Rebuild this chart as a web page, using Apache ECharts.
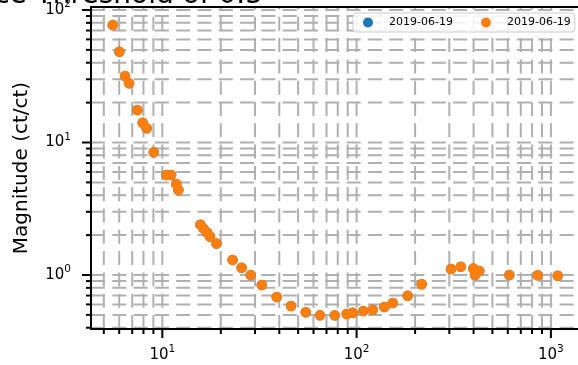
<!DOCTYPE html>
<html>
<head>
<meta charset="utf-8">
<script src="https://cdn.jsdelivr.net/npm/echarts@6/dist/echarts.min.js"></script>
<style>html,body{margin:0;padding:0;background:#fff;}#c{width:578px;height:365px;}</style>
</head>
<body>
<div id="c"></div>
<script>
// ---- data ----
const freq = [5.56, 6.01, 6.43, 6.74, 7.44, 7.93, 8.31, 9.03, 10.5, 11.1, 11.8, 12.1, 15.7, 16.3, 17.0, 17.6, 19.0, 23.0, 25.6, 28.5, 32.5, 38.8, 46.0, 54.7, 64.8, 77.2, 88.9, 95.5, 108.3, 121.0, 138.9, 153.4, 183.2, 216.3, 306.1, 343.5, 398.7, 406.8, 428.1, 610.9, 855, 1084];
const mag = [77.1, 48.4, 31.8, 28.0, 17.6, 14.1, 12.8, 8.44, 5.68, 5.68, 4.86, 4.38, 2.40, 2.24, 2.09, 1.95, 1.73, 1.30, 1.135, 1.00, 0.840, 0.682, 0.583, 0.523, 0.496, 0.496, 0.508, 0.519, 0.535, 0.547, 0.573, 0.615, 0.698, 0.851, 1.110, 1.155, 1.12, 1.00, 1.072, 1.00, 0.995, 0.988];
const seriesNames = ['s0', 's1'];
const legendLabels = ['2019-06-19', '2019-06-19'];
const titleText = 'Significance Threshold of 0.5';
const yLabel = 'Magnitude (ct/ct)';
// tick values
const xMajor = [10, 100, 1000];
const xMinor = [5, 6, 7, 8, 9, 20, 30, 40, 50, 60, 70, 80, 90, 200, 300, 400, 500, 600, 700, 800, 900];
const yMajor = [1, 10, 100];
const yMinor = [0.4, 0.5, 0.6, 0.7, 0.8, 0.9, 2, 3, 4, 5, 6, 7, 8, 9, 20, 30, 40, 50, 60, 70, 80, 90];

const X_MIN = 4.2956, X_MAX = 1584.9, Y_MIN = 0.3913, Y_MAX = 105.34;
const FONT = 'DejaVu Sans';
const GRID_DASH = [14, 7.3];
const GRID_COLOR = '#b0b0b0';

const chart = echarts.init(document.getElementById('c'), null, {renderer: 'canvas'});

function powLabel(v) {
  const e = Math.log10(v);
  const r = Math.round(e);
  return Math.abs(e - r) < 1e-6 ? '{b|10}{s|' + r + '}' : '';
}
const richLbl = {
  b: {fontSize: 15, fontFamily: FONT, color: '#000', lineHeight: 22},
  s: {fontSize: 10.5, fontFamily: FONT, color: '#000', lineHeight: 10, verticalAlign: 'top'}
};

const vData = xMajor.map(v => [v, 1, 1]).concat(xMinor.map(v => [v, 1, 0]));
const hData = yMajor.map(v => [10, v, 1]).concat(yMinor.map(v => [10, v, 0]));

function renderV(params, api) {
  const cs = params.coordSys;
  const x = api.coord([api.value(0), 1])[0];
  const bottom = cs.y + cs.height;
  const len = api.value(2) ? 9 : 5;
  return {type: 'group', children: [
    {type: 'line', shape: {x1: x, y1: bottom, x2: x, y2: cs.y}, style: {stroke: GRID_COLOR, lineWidth: 2, lineDash: GRID_DASH}},
    {type: 'line', shape: {x1: x, y1: bottom, x2: x, y2: bottom + len}, style: {stroke: '#000', lineWidth: 2}}
  ]};
}
function renderH(params, api) {
  const cs = params.coordSys;
  const y = api.coord([10, api.value(1)])[1];
  const left = cs.x;
  const len = api.value(2) ? 9 : 5;
  return {type: 'group', children: [
    {type: 'line', shape: {x1: left, y1: y, x2: cs.x + cs.width, y2: y}, style: {stroke: GRID_COLOR, lineWidth: 2, lineDash: GRID_DASH}},
    {type: 'line', shape: {x1: left, y1: y, x2: left - len, y2: y}, style: {stroke: '#000', lineWidth: 2}}
  ]};
}

const pts = freq.map((f, i) => [f, mag[i]]);

chart.setOption({
  animation: false,
  backgroundColor: '#fff',
  grid: {left: 91, top: 7, width: 498.76, height: 322, show: false, containLabel: false, outerBoundsMode: 'none'},
  xAxis: [{
    type: 'log', logBase: 10, min: X_MIN, max: X_MAX, position: 'bottom', z: 5,
    axisLine: {show: true, lineStyle: {color: '#000', width: 2}},
    axisTick: {show: false}, splitLine: {show: false}, minorTick: {show: false},
    axisLabel: {formatter: powLabel, rich: richLbl, margin: 15, hideOverlap: false}
  }, {
    type: 'log', logBase: 10, min: X_MIN, max: X_MAX, position: 'top', z: 5,
    axisLine: {show: true, lineStyle: {color: '#000', width: 2}},
    axisTick: {show: false}, splitLine: {show: false}, axisLabel: {show: false}
  }],
  yAxis: {
    type: 'log', logBase: 10, min: Y_MIN, max: Y_MAX, z: 5,
    axisLine: {show: true, lineStyle: {color: '#000', width: 2}},
    axisTick: {show: false}, splitLine: {show: false}, minorTick: {show: false},
    axisLabel: {formatter: powLabel, rich: richLbl, margin: 20, hideOverlap: false}
  },
  legend: {
    data: seriesNames, left: 353, top: 13, width: 214, padding: [4, 4, 4, 10], orient: 'horizontal',
    itemWidth: 32, itemHeight: 10, itemGap: 28, icon: 'circle',
    formatter: name => legendLabels[seriesNames.indexOf(name)],
    textStyle: {fontSize: 11, fontFamily: FONT, color: '#000'},
    backgroundColor: 'rgba(255,255,255,0.85)', borderColor: '#cccccc', borderWidth: 1, borderRadius: 3,
    selectedMode: false, z: 10
  },
  series: [
    {type: 'custom', name: 'vgrid', data: vData, encode: {x: 0, y: 1}, renderItem: renderV, clip: false, silent: true, z: 1},
    {type: 'custom', name: 'hgrid', data: hData, encode: {x: 0, y: 1}, renderItem: renderH, clip: false, silent: true, z: 1},
    {type: 'scatter', name: seriesNames[0], data: pts, symbol: 'circle', symbolSize: 10.5, itemStyle: {color: '#1f77b4', opacity: 1}, z: 3},
    {type: 'scatter', name: seriesNames[1], data: pts, symbol: 'circle', symbolSize: 10.5, itemStyle: {color: '#ff7f0e', opacity: 1}, z: 4}
  ],
  graphic: [
    {type: 'text', x: 263, y: -4, style: {text: titleText, font: '28px "DejaVu Sans"', fill: '#000', align: 'right', verticalAlign: 'middle'}, z: 20},
    {type: 'text', x: 22, y: 168, rotation: Math.PI / 2, style: {text: yLabel, font: '20px "DejaVu Sans"', fill: '#000', align: 'center', verticalAlign: 'middle'}, z: 20}
  ]
});
</script>
</body>
</html>
